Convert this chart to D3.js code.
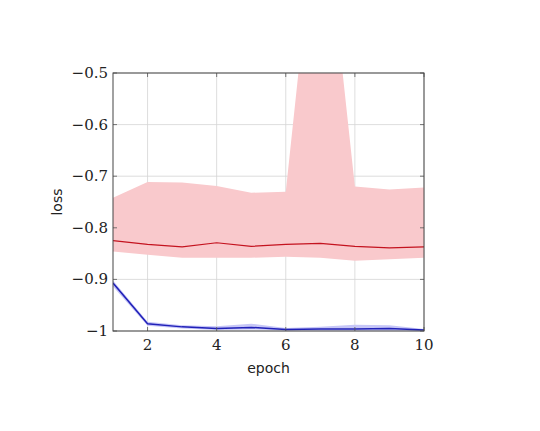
<!DOCTYPE html>
<html><head><meta charset="utf-8">
<script src="https://cdn.jsdelivr.net/npm/d3@7"></script>
<style>body{margin:0;background:#fff}</style>
</head><body>
<svg id="c" width="540" height="431"></svg>
<script>
const epochs = [1,2,3,4,5,6,7,8,9,10];
const redMean  = [-0.825,-0.832,-0.837,-0.829,-0.836,-0.832,-0.830,-0.836,-0.839,-0.837];
const redUpper = [-0.742,-0.711,-0.712,-0.719,-0.732,-0.730,-0.10,-0.720,-0.726,-0.722];
const redLower = [-0.846,-0.852,-0.858,-0.858,-0.858,-0.856,-0.858,-0.864,-0.861,-0.858];
const blueMean  = [-0.907,-0.986,-0.992,-0.995,-0.993,-0.997,-0.996,-0.996,-0.995,-0.998];
const blueUpper = [-0.902,-0.982,-0.989,-0.991,-0.986,-0.994,-0.992,-0.988,-0.989,-0.996];
const blueLower = [-0.914,-0.990,-0.995,-0.998,-0.997,-0.999,-0.999,-0.999,-0.999,-1.000];
const xTicks = [2,4,6,8,10];
const yTicks = [-1,-0.9,-0.8,-0.7,-0.6,-0.5];
const yTickLabels = ["\u22121","\u22120.9","\u22120.8","\u22120.7","\u22120.6","\u22120.5"];

const svg = d3.select("#c");
const L=113, R=424, T=73, B=331;
const x = d3.scaleLinear().domain([1,10]).range([L,R]);
const y = d3.scaleLinear().domain([-1,-0.5]).range([B,T]);

svg.append("defs").append("clipPath").attr("id","clip")
  .append("rect").attr("x",L).attr("y",T).attr("width",R-L).attr("height",B-T);

// grid
const g = svg.append("g");
g.selectAll(".vx").data(xTicks).enter().append("line")
  .attr("x1",d=>x(d)).attr("x2",d=>x(d)).attr("y1",T).attr("y2",B)
  .attr("stroke","#d4d4d4").attr("stroke-width",0.8);
g.selectAll(".hy").data(yTicks).enter().append("line")
  .attr("x1",L).attr("x2",R).attr("y1",d=>y(d)).attr("y2",d=>y(d))
  .attr("stroke","#d4d4d4").attr("stroke-width",0.8);

const plot = svg.append("g").attr("clip-path","url(#clip)");
const area = (up,lo)=>d3.area().x((d,i)=>x(epochs[i])).y0((d,i)=>y(lo[i])).y1((d,i)=>y(up[i]));
const line = (m)=>d3.line().x((d,i)=>x(epochs[i])).y((d,i)=>y(m[i]));

plot.append("path").datum(epochs).attr("d",area(redUpper,redLower)).attr("fill","#f9c9cc");
plot.append("path").datum(epochs).attr("d",area(blueUpper,blueLower)).attr("fill","#c6c6f7");
plot.append("path").datum(epochs).attr("d",line(redMean)).attr("fill","none").attr("stroke","#c4131f").attr("stroke-width",1.2);
plot.append("path").datum(epochs).attr("d",line(blueMean)).attr("fill","none").attr("stroke","#2020b8").attr("stroke-width",1.5);

// ticks (inside, both sides)
const tk = svg.append("g").attr("stroke","#555").attr("stroke-width",0.8);
xTicks.forEach(t=>{
  tk.append("line").attr("x1",x(t)).attr("x2",x(t)).attr("y1",B).attr("y2",B-4);
  tk.append("line").attr("x1",x(t)).attr("x2",x(t)).attr("y1",T).attr("y2",T+4);
});
yTicks.forEach(t=>{
  tk.append("line").attr("x1",L).attr("x2",L+4).attr("y1",y(t)).attr("y2",y(t));
  tk.append("line").attr("x1",R).attr("x2",R-4).attr("y1",y(t)).attr("y2",y(t));
});

// frame
svg.append("rect").attr("x",L).attr("y",T).attr("width",R-L).attr("height",B-T)
  .attr("fill","none").attr("stroke","#444").attr("stroke-width",1);

// tick labels
const serif = "DejaVu Serif, serif";
svg.selectAll(".xl").data(xTicks).enter().append("text")
  .attr("x",d=>x(d)).attr("y",B+19).attr("text-anchor","middle")
  .style("font-family",serif).attr("font-size",15).attr("fill","#222").text(d=>d);
svg.selectAll(".yl").data(yTicks).enter().append("text")
  .attr("x",L-5).attr("y",d=>y(d)+5).attr("text-anchor","end")
  .style("font-family",serif).attr("font-size",15).attr("fill","#222").text((d,i)=>yTickLabels[i]);

// axis labels
const sans = "DejaVu Sans, sans-serif";
svg.append("text").attr("x",(L+R)/2).attr("y",373).attr("text-anchor","middle")
  .style("font-family",sans).attr("font-size",14).attr("fill","#222").text("epoch");
svg.append("text").attr("transform",`translate(62,${(T+B)/2}) rotate(-90)`).attr("text-anchor","middle")
  .style("font-family",sans).attr("font-size",14).attr("fill","#222").text("loss");
</script>
</body></html>
